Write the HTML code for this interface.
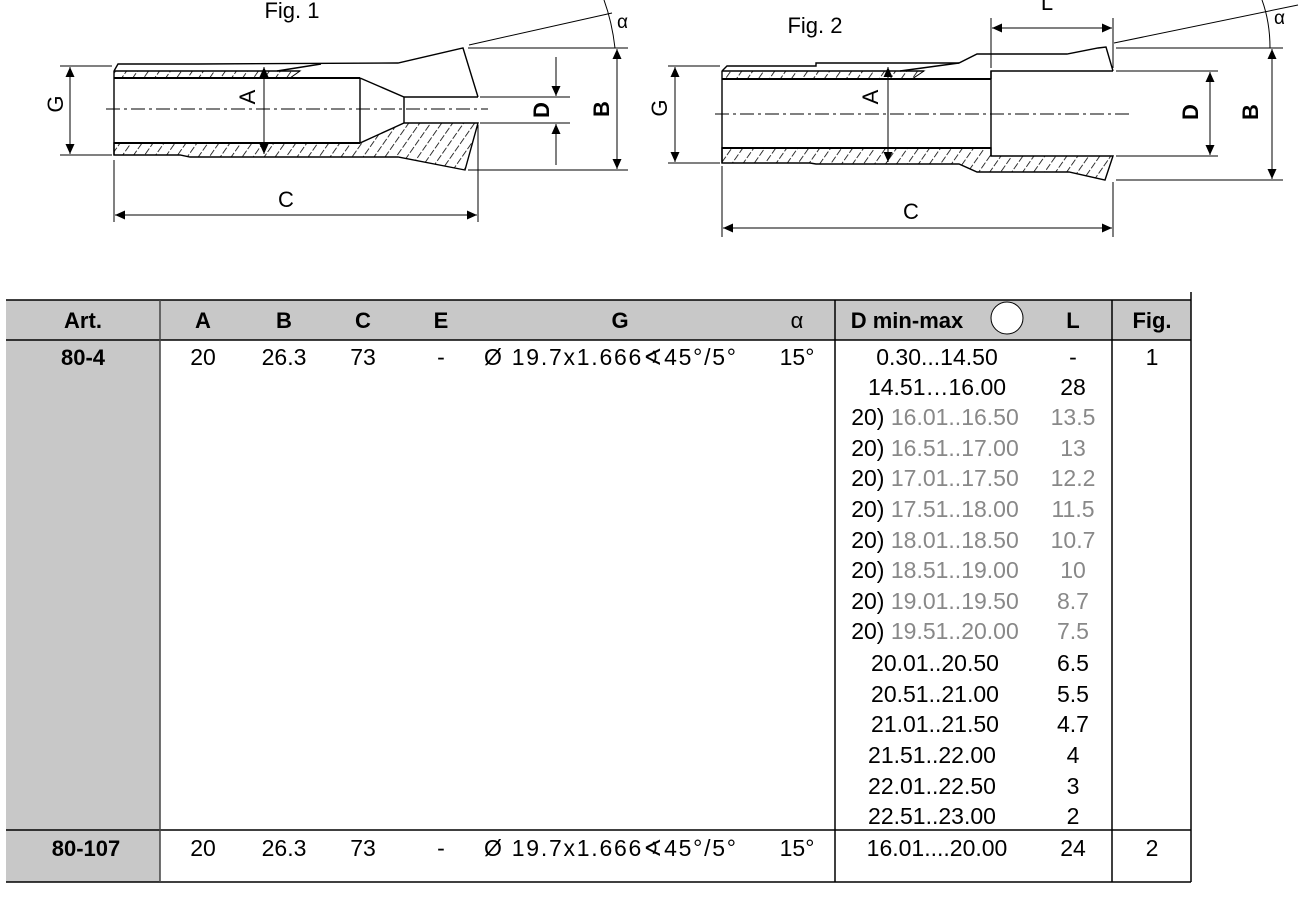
<!DOCTYPE html>
<html><head><meta charset="utf-8"><style>
html,body{margin:0;padding:0;background:#fff;width:1304px;height:904px;overflow:hidden}
svg{display:block}
text{font-family:"Liberation Sans",sans-serif}
</style></head><body>
<svg width="1304" height="904" viewBox="0 0 1304 904" xmlns="http://www.w3.org/2000/svg">
<defs>
<pattern id="h" patternUnits="userSpaceOnUse" width="9" height="9" patternTransform="rotate(35)">
<line x1="0" y1="0" x2="0" y2="9" stroke="#000" stroke-width="1.6" stroke-dasharray="7 2"/>
</pattern>
<marker id="a" viewBox="0 0 10 10" refX="10" refY="5" markerWidth="16" markerHeight="10" markerUnits="userSpaceOnUse" orient="auto-start-reverse"><path d="M0,0.5 L10,5 L0,9.5 z" fill="#000"/></marker>
</defs>
<g stroke="#000" fill="none" stroke-width="1.4">
<!-- FIG 1 -->
<polygon points="114,71 300,71 290,78 114,78" fill="url(#h)" stroke-width="1"/>
<polygon points="114,143 360,143 404,123 478,123 465,170 398,157 190,157 180,155 114,155" fill="url(#h)"/>
<line x1="114" y1="71" x2="300" y2="71"/>
<polyline points="114,71 118,64 198,64 198,64 398,63 463,48 478,97"/>
<line x1="277" y1="71" x2="321" y2="64"/>
<line x1="114" y1="78" x2="360" y2="78" stroke-width="2"/>
<line x1="114" y1="143" x2="360" y2="143" stroke-width="2"/>
<polyline points="360,78 404,97 478,97"/>
<line x1="360" y1="78" x2="360" y2="143"/>
<line x1="404" y1="97" x2="404" y2="123"/>
<line x1="114" y1="71" x2="114" y2="155"/>
<line x1="106" y1="109" x2="488" y2="109" stroke-dasharray="14 4 3 4" stroke-width="1"/>
<line x1="60" y1="66" x2="112" y2="66" stroke-width="1"/><line x1="60" y1="155" x2="112" y2="155" stroke-width="1"/>
<line x1="70" y1="67" x2="70" y2="154" marker-start="url(#a)" marker-end="url(#a)" stroke-width="1"/>
<line x1="264" y1="67" x2="264" y2="154" marker-start="url(#a)" marker-end="url(#a)" stroke-width="1"/>
<line x1="480" y1="97" x2="570" y2="97" stroke-width="1"/><line x1="480" y1="123" x2="570" y2="123" stroke-width="1"/>
<line x1="556" y1="57" x2="556" y2="96" marker-end="url(#a)" stroke-width="1"/>
<line x1="556" y1="165" x2="556" y2="124" marker-end="url(#a)" stroke-width="1"/>
<line x1="468" y1="48" x2="628" y2="48" stroke-width="1"/><line x1="468" y1="170" x2="628" y2="170" stroke-width="1"/>
<line x1="617" y1="49" x2="617" y2="169" marker-start="url(#a)" marker-end="url(#a)" stroke-width="1"/>
<line x1="469" y1="45" x2="612" y2="13" stroke-width="1"/>
<path d="M604,0 Q612,22 615,48" stroke-width="1"/>
<line x1="114" y1="160" x2="114" y2="222" stroke-width="1"/><line x1="478" y1="125" x2="478" y2="222" stroke-width="1"/>
<line x1="115" y1="215" x2="477" y2="215" marker-start="url(#a)" marker-end="url(#a)" stroke-width="1"/>
<!-- FIG 2 -->
<polygon points="722,71 924,71 912,79 722,79" fill="url(#h)" stroke-width="1"/>
<polygon points="722,148 991,148 991,156 1113,156 1105,180 1069,172 977,172 959,164 816,164 810,163 722,163" fill="url(#h)"/>
<polyline points="722,71 727,66 816,66 816,63 959,63 977,54 1067,54 1098,48 1106,47 1113,71"/>
<line x1="722" y1="71" x2="924" y2="71"/>
<line x1="900" y1="71" x2="959" y2="63"/>
<line x1="722" y1="79" x2="991" y2="79" stroke-width="2"/>
<line x1="722" y1="148" x2="991" y2="148" stroke-width="2"/>
<polyline points="991,79 991,71 1113,71"/>
<line x1="991" y1="71" x2="991" y2="156"/>
<line x1="722" y1="71" x2="722" y2="163"/>
<line x1="715" y1="114" x2="1130" y2="114" stroke-dasharray="14 4 3 4" stroke-width="1"/>
<line x1="668" y1="66" x2="720" y2="66" stroke-width="1"/><line x1="668" y1="163" x2="720" y2="163" stroke-width="1"/>
<line x1="675" y1="67" x2="675" y2="162" marker-start="url(#a)" marker-end="url(#a)" stroke-width="1"/>
<line x1="888" y1="67" x2="888" y2="162" marker-start="url(#a)" marker-end="url(#a)" stroke-width="1"/>
<line x1="991" y1="18" x2="991" y2="68" stroke-width="1"/><line x1="1113" y1="18" x2="1113" y2="68" stroke-width="1"/>
<line x1="992" y1="28" x2="1112" y2="28" marker-start="url(#a)" marker-end="url(#a)" stroke-width="1"/>
<line x1="1116" y1="71" x2="1218" y2="71" stroke-width="1"/><line x1="1116" y1="156" x2="1218" y2="156" stroke-width="1"/>
<line x1="1210" y1="72" x2="1210" y2="155" marker-start="url(#a)" marker-end="url(#a)" stroke-width="1"/>
<line x1="1116" y1="48" x2="1283" y2="48" stroke-width="1"/><line x1="1116" y1="180" x2="1283" y2="180" stroke-width="1"/>
<line x1="1272" y1="49" x2="1272" y2="179" marker-start="url(#a)" marker-end="url(#a)" stroke-width="1"/>
<line x1="1114" y1="43" x2="1298" y2="5" stroke-width="1"/>
<path d="M1262,0 Q1270,22 1270,48" stroke-width="1"/>
<line x1="722" y1="166" x2="722" y2="237" stroke-width="1"/><line x1="1113" y1="182" x2="1113" y2="237" stroke-width="1"/>
<line x1="723" y1="228" x2="1112" y2="228" marker-start="url(#a)" marker-end="url(#a)" stroke-width="1"/>
</g>
<g font-size="22" fill="#000">
<text x="292" y="18" text-anchor="middle">Fig. 1</text>
<text x="815" y="33" text-anchor="middle">Fig. 2</text>
<text x="286" y="207" text-anchor="middle">C</text>
<text x="911" y="219" text-anchor="middle">C</text>
<text x="1047" y="10" text-anchor="middle">L</text>
<text x="617" y="28" font-size="19">α</text>
<text x="1274" y="24" font-size="19">α</text>
<text transform="translate(63,104) rotate(-90)" text-anchor="middle">G</text>
<text transform="translate(255,97) rotate(-90)" text-anchor="middle">A</text>
<text transform="translate(549,110) rotate(-90)" text-anchor="middle" font-weight="bold">D</text>
<text transform="translate(609,109) rotate(-90)" text-anchor="middle" font-weight="bold">B</text>
<text transform="translate(667,108) rotate(-90)" text-anchor="middle">G</text>
<text transform="translate(878,97) rotate(-90)" text-anchor="middle">A</text>
<text transform="translate(1198,112) rotate(-90)" text-anchor="middle" font-weight="bold">D</text>
<text transform="translate(1258,112) rotate(-90)" text-anchor="middle" font-weight="bold">B</text>
</g>
<!-- TABLE -->
<rect x="6" y="300" width="1185" height="40" fill="#c8c8c8"/>
<rect x="6" y="340" width="154" height="542" fill="#c8c8c8"/>
<g stroke="#000" stroke-width="1.5">
<line x1="6" y1="300" x2="1191" y2="300"/>
<line x1="6" y1="340" x2="1191" y2="340"/>
<line x1="6" y1="830" x2="1191" y2="830"/>
<line x1="6" y1="882" x2="1191" y2="882"/>
<line x1="160" y1="300" x2="160" y2="882" stroke="#444"/>
<line x1="835" y1="300" x2="835" y2="882"/>
<line x1="1112" y1="300" x2="1112" y2="882"/>
<line x1="1191" y1="292" x2="1191" y2="882"/>
</g>
<circle cx="1007" cy="318" r="16" fill="#fff" stroke="#000" stroke-width="1"/>
<g font-size="22" font-weight="bold" text-anchor="middle">
<text x="83" y="328">Art.</text><text x="203" y="328">A</text><text x="284" y="328">B</text>
<text x="363" y="328">C</text><text x="441" y="328">E</text><text x="620" y="328">G</text>
<text x="797" y="328" font-weight="normal">α</text>
<text x="907" y="328">D min-max</text><text x="1073" y="328">L</text><text x="1152" y="328">Fig.</text>
<text x="83" y="365">80-4</text><text x="86" y="856">80-107</text>
</g>
<g font-size="23" text-anchor="middle">
<text x="203" y="365">20</text><text x="284" y="365">26.3</text><text x="363" y="365">73</text><text x="441" y="365">-</text>
<text x="484" y="365" text-anchor="start" textLength="252">Ø 19.7x1.666∢45°/5°</text><text x="797" y="365">15°</text><text x="1152" y="365">1</text>
<text x="203" y="856">20</text><text x="284" y="856">26.3</text><text x="363" y="856">73</text><text x="441" y="856">-</text>
<text x="484" y="856" text-anchor="start" textLength="252">Ø 19.7x1.666∢45°/5°</text><text x="797" y="856">15°</text><text x="1152" y="856">2</text>
<text x="937" y="856">16.01....20.00</text><text x="1073" y="856">24</text>
<text x="937" y="365">0.30...14.50</text><text x="1073" y="365">-</text>
<text x="937" y="395">14.51…16.00</text><text x="1073" y="395">28</text>
<g fill="#888">
<text x="935" y="425"><tspan fill="#000">20)</tspan> 16.01..16.50</text><text x="1073" y="425">13.5</text>
<text x="935" y="456"><tspan fill="#000">20)</tspan> 16.51..17.00</text><text x="1073" y="456">13</text>
<text x="935" y="486"><tspan fill="#000">20)</tspan> 17.01..17.50</text><text x="1073" y="486">12.2</text>
<text x="935" y="517"><tspan fill="#000">20)</tspan> 17.51..18.00</text><text x="1073" y="517">11.5</text>
<text x="935" y="548"><tspan fill="#000">20)</tspan> 18.01..18.50</text><text x="1073" y="548">10.7</text>
<text x="935" y="578"><tspan fill="#000">20)</tspan> 18.51..19.00</text><text x="1073" y="578">10</text>
<text x="935" y="609"><tspan fill="#000">20)</tspan> 19.01..19.50</text><text x="1073" y="609">8.7</text>
<text x="935" y="639"><tspan fill="#000">20)</tspan> 19.51..20.00</text><text x="1073" y="639">7.5</text>
</g>
<text x="935" y="671">20.01..20.50</text><text x="1073" y="671">6.5</text>
<text x="935" y="702">20.51..21.00</text><text x="1073" y="702">5.5</text>
<text x="935" y="732">21.01..21.50</text><text x="1073" y="732">4.7</text>
<text x="932" y="763">21.51..22.00</text><text x="1073" y="763">4</text>
<text x="932" y="794">22.01..22.50</text><text x="1073" y="794">3</text>
<text x="932" y="824">22.51..23.00</text><text x="1073" y="824">2</text>
</g>
</svg>
</body></html>
